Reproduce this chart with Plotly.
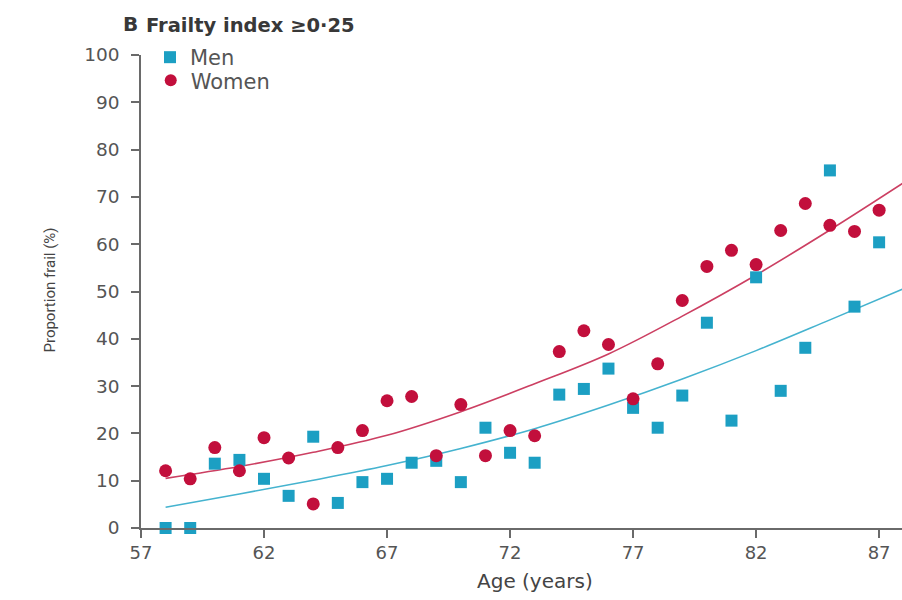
import plotly.graph_objects as go

# Age groups (years)
ages = [58, 59, 60, 61, 62, 63, 64, 65, 66, 67, 68, 69, 70, 71, 72, 73,
        74, 75, 76, 77, 78, 79, 80, 81, 82, 83, 84, 85, 86, 87, 88]

# Proportion frail (%) by age, frailty index >= 0.25
men = [0, 0, 13.6, 14.4, 10.4, 6.8, 19.3, 5.3, 9.7, 10.4, 13.8, 14.2, 9.7,
       21.2, 15.9, 13.8, 28.2, 29.4, 33.7, 25.4, 21.2, 28.0, 43.4, 22.7,
       53.0, 29.0, 38.1, 75.6, 46.8, 60.4, 20.3]
women = [12.1, 10.4, 17.0, 12.1, 19.1, 14.8, 5.1, 17.0, 20.6, 26.9, 27.8,
         15.3, 26.1, 15.3, 20.6, 19.5, 37.3, 41.7, 38.8, 27.3, 34.7, 48.1,
         55.3, 58.7, 55.7, 62.9, 68.6, 64.0, 62.7, 67.2, 77.3]

# Fitted trend curves
fit_ages = [58, 61, 64, 67, 70, 73, 76, 79, 82, 85, 88]
men_fit = [4.4, 7.2, 10.1, 13.2, 16.8, 21.0, 26.0, 31.5, 37.5, 44.0, 50.6]
women_fit = [10.5, 13.0, 16.0, 19.6, 24.6, 30.5, 36.8, 44.8, 53.5, 63.0, 73.0]

x_ticks = [57, 62, 67, 72, 77, 82, 87]

MEN_C = "#1c9fc3"
WOMEN_C = "#c20f3c"
AXIS_C = "#6a6a6a"
TEXT_C = "#555555"
FONT = "DejaVu Sans"

fig = go.Figure()

fig.add_trace(go.Scatter(
    x=fit_ages, y=men_fit, mode="lines", line=dict(color="#45b3cf", width=1.6, shape="spline"),
    showlegend=False, hoverinfo="skip"))
fig.add_trace(go.Scatter(
    x=fit_ages, y=women_fit, mode="lines", line=dict(color="#cc3f62", width=1.6, shape="spline"),
    showlegend=False, hoverinfo="skip"))

fig.add_trace(go.Scatter(
    x=ages, y=men, mode="markers", name="Men", cliponaxis=False, legend="legend",
    marker=dict(symbol="square", size=12, color=MEN_C)))
fig.add_trace(go.Scatter(
    x=ages, y=women, mode="markers", name="Women", cliponaxis=False, legend="legend2",
    marker=dict(symbol="circle", size=13, color=WOMEN_C)))

legend_style = dict(xanchor="left", yanchor="top", font=dict(size=21, color=TEXT_C, family=FONT),
                    bgcolor="rgba(0,0,0,0)", itemsizing="constant")

fig.update_layout(
    width=902, height=600,
    margin=dict(l=141, r=0, t=55, b=72),
    paper_bgcolor="white", plot_bgcolor="white",
    font=dict(family=FONT, color=TEXT_C, size=18),
    legend=dict(x=0.0118, y=1.038, **legend_style),
    legend2=dict(x=0.0128, y=0.989, **legend_style),
    annotations=[
        dict(text="<b>B</b>", x=-0.026, y=1.065, xref="paper", yref="paper",
             xanchor="left", yanchor="middle", showarrow=False,
             font=dict(size=20, color="#383838", family=FONT)),
        dict(text="<b>Frailty index ≥0·25</b>", x=0.004, y=1.063, xref="paper", yref="paper",
             xanchor="left", yanchor="middle", showarrow=False,
             font=dict(size=19.5, color="#383838", family=FONT)),
        dict(text="Proportion frail (%)", textangle=-90, x=-0.119, y=0.503,
             xref="paper", yref="paper", xanchor="center", yanchor="middle",
             showarrow=False, font=dict(size=15, color="#444444", family="Roboto")),
        dict(text="Age (years)", x=0.518, y=-0.112, xref="paper", yref="paper",
             xanchor="center", yanchor="middle", showarrow=False,
             font=dict(size=20, color="#444444", family=FONT)),
    ],
    shapes=[
        dict(type="line", xref="paper", yref="paper", x0=0, x1=0, y0=0, y1=-0.02,
             line=dict(color=AXIS_C, width=1.5)),
    ],
)

fig.update_xaxes(
    range=[57, 87.93], tickvals=x_ticks, ticktext=[str(v) for v in x_ticks],
    showline=True, linecolor=AXIS_C, linewidth=1.5, showgrid=False, zeroline=False,
    ticks="outside", ticklen=8, tickwidth=1.5, tickcolor=AXIS_C,
    tickfont=dict(size=18, color=TEXT_C, family=FONT))
fig.update_yaxes(
    range=[0, 100], dtick=10, tick0=0,
    showline=True, linecolor=AXIS_C, linewidth=1.5, showgrid=False, zeroline=False,
    ticks="outside", ticklen=8, tickwidth=1.5, tickcolor=AXIS_C, ticklabelstandoff=8,
    tickfont=dict(size=18.5, color=TEXT_C, family=FONT))

fig.write_html("out.html")
